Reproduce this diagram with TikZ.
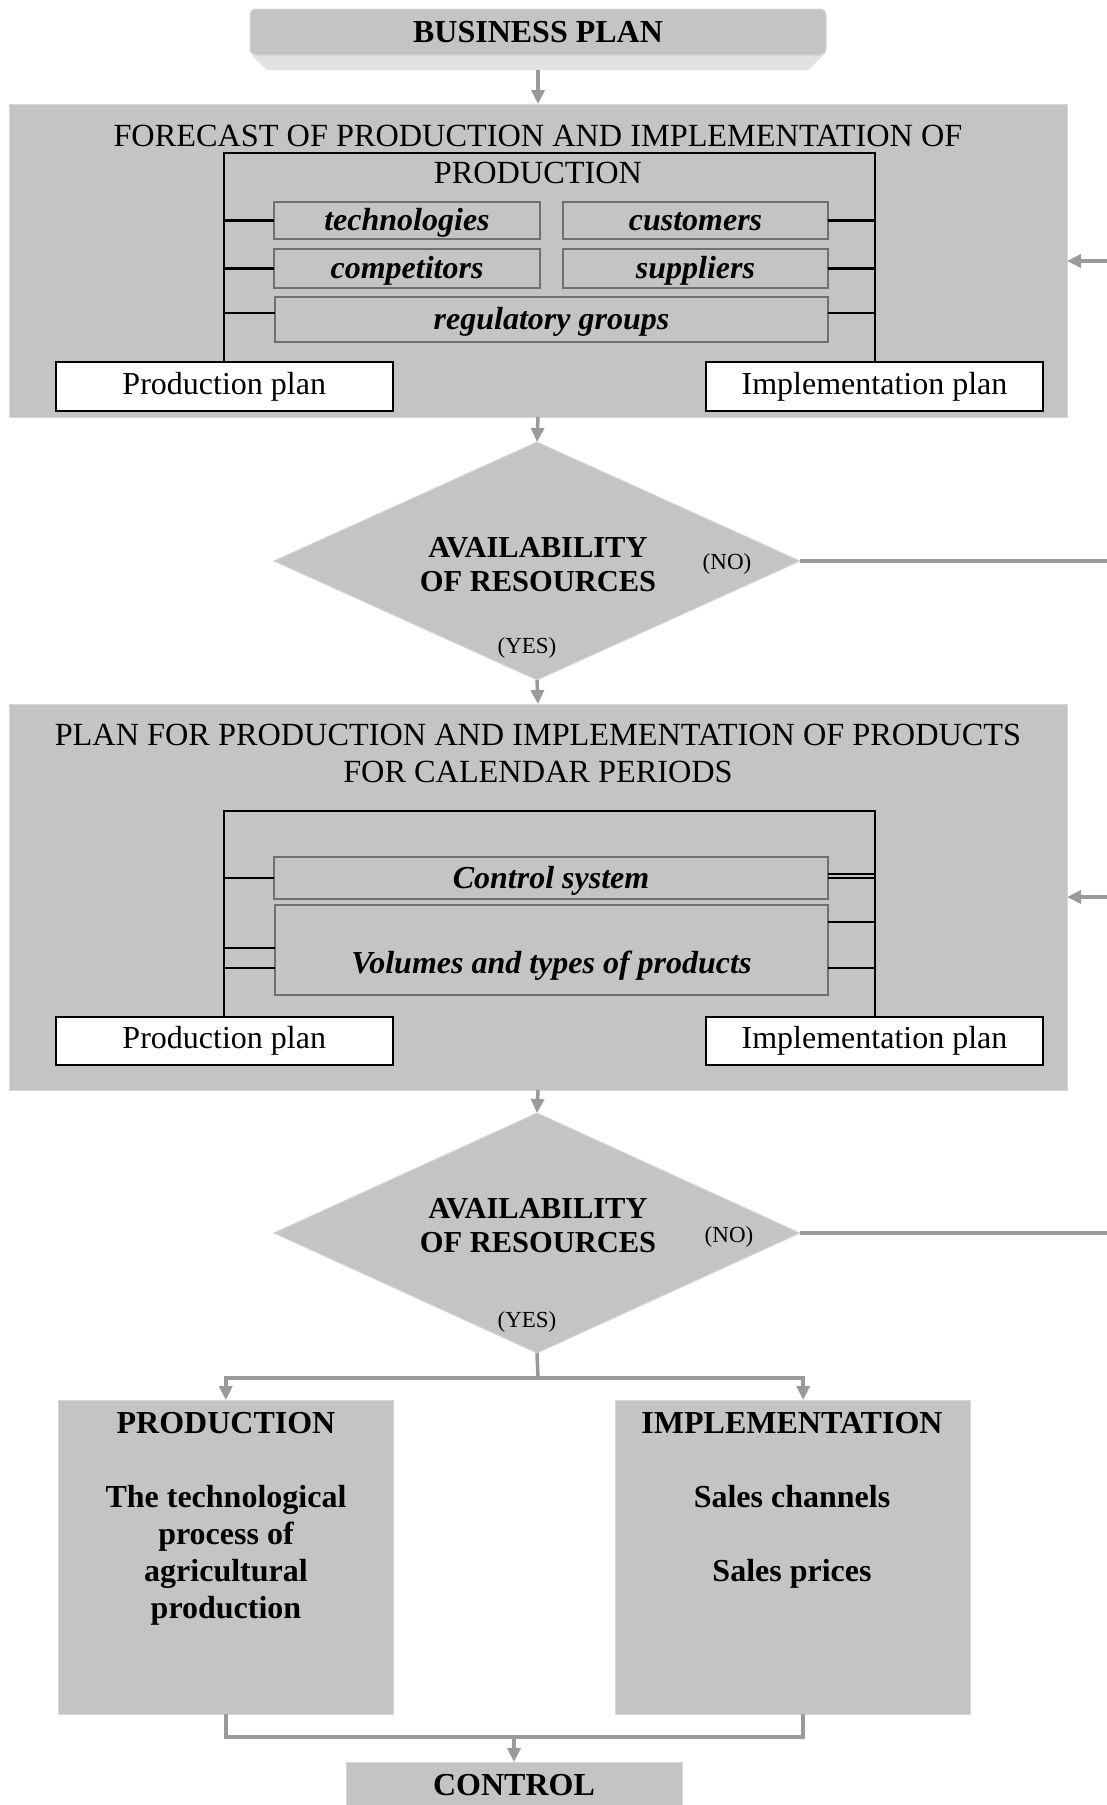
\documentclass[tikz,border=0pt]{standalone}
\usepackage{fontspec}
\setmainfont{Liberation Serif}
\usetikzlibrary{shapes.geometric,arrows.meta}
\definecolor{boxgray}{HTML}{C4C4C4}
\definecolor{edgegray}{HTML}{D6D6D6}
\definecolor{linegray}{HTML}{9A9A9A}
\definecolor{bevelgray}{HTML}{E2E2E2}
\definecolor{smalledge}{HTML}{707070}
\tikzset{
  every node/.style={inner sep=0pt, outer sep=0pt},
  big/.style={font=\fontsize{32.3}{37}\selectfont},
  panel/.style={fill=boxgray, draw=edgegray, line width=1pt},
  whitebox/.style={fill=white, draw=black, line width=2pt, font=\fontsize{32}{37}\selectfont},
  smallbox/.style={fill=boxgray, draw=smalledge, line width=2.2pt, text height=27pt, text depth=7pt,
                   font=\fontsize{32}{37}\selectfont\bfseries\itshape},
  frame/.style={draw=black, line width=2pt},
  tick/.style={draw=black, line width=2.6pt},
  gline/.style={draw=linegray, line width=3.5pt},
  garrow/.style={draw=linegray, line width=3.5pt, -{Triangle[width=13pt,length=14pt]}},
  decision/.style={shape=diamond, fill=boxgray, draw=edgegray, line width=1pt},
  dtext/.style={font=\fontsize{30.5}{34}\selectfont\bfseries, align=center},
  stext/.style={font=\fontsize{23}{27}\selectfont},
}
\begin{document}
\begin{tikzpicture}[x=1pt,y=-1pt]
\useasboundingbox (0,0) rectangle (1107,1805);

% Business plan
\fill[bevelgray] (252,55) -- (824,55) -- (808,70) -- (267,70) -- cycle;
\node[fill=boxgray, draw=edgegray, line width=1pt, rounded corners=6pt,
      minimum width=576pt, minimum height=46pt,
      font=\fontsize{32}{37}\selectfont\bfseries] (bp) at (538,32) {BUSINESS PLAN};

% Forecast panel
\node[panel, minimum width=1058pt, minimum height=313pt] (f1) at (538,260.5) {};
\node[big, align=center] (f1t) at (538,154.5) {FORECAST OF PRODUCTION AND IMPLEMENTATION OF\\PRODUCTION};
\draw[garrow] (bp.south |- 0,70) -- (f1.north);

\node[whitebox, minimum width=336.5pt, minimum height=49pt] (pp1) at (224.25,386.5) {Production plan};
\node[whitebox, minimum width=337pt, minimum height=49pt] (ip1) at (874.5,386.5) {Implementation plan};
\coordinate (ft1) at (538,153);
\draw[frame] (pp1.north) |- (ft1) -| (ip1.north);

\node[smallbox, minimum width=266pt, minimum height=37pt] (tech) at (407,220.5) {technologies};
\node[smallbox, minimum width=265pt, minimum height=37pt] (cust) at (695.5,220.5) {customers};
\node[smallbox, minimum width=266pt, minimum height=39pt] (comp) at (407,268.5) {competitors};
\node[smallbox, minimum width=265pt, minimum height=39pt] (supp) at (695.5,268.5) {suppliers};
\node[smallbox, minimum width=553pt, minimum height=45pt] (reg) at (551.5,319.5) {regulatory groups};

\draw[tick] (tech.west) -- (tech.west -| pp1.north);
\draw[tick] (comp.west) -- (comp.west -| pp1.north);
\draw[tick] ([yshift=6.5pt]reg.west) -- ([yshift=6.5pt]reg.west -| pp1.north);
\draw[tick] (cust.east) -- (cust.east -| ip1.north);
\draw[tick] (supp.east) -- (supp.east -| ip1.north);
\draw[tick] ([yshift=6.5pt]reg.east) -- ([yshift=6.5pt]reg.east -| ip1.north);

\coordinate (r1) at (1107,261);
\draw[garrow] (r1) -- (r1 -| f1.east);

% Decision 1
\node[decision, minimum width=526pt, minimum height=238pt] (d1) at (537,561) {};
\node[dtext] (d1t) at (538,565) {AVAILABILITY\\OF RESOURCES};
\node[stext] (no1) at (727,564) {(NO)};
\node[stext] (yes1) at (527,648) {(YES)};
\draw[garrow] (f1.south) -- (d1.north);
\coordinate (n1) at (1107,561);
\draw[gline] (d1.east) -- (n1);

% Plan panel
\node[panel, minimum width=1058pt, minimum height=386pt] (f2) at (538,897) {};
\node[big, align=center] (f2t) at (538,753.5) {PLAN FOR PRODUCTION AND IMPLEMENTATION OF PRODUCTS\\FOR CALENDAR PERIODS};
\draw[garrow] (d1.south) -- (f2.north);

\node[whitebox, minimum width=336.5pt, minimum height=48pt] (pp2) at (224.25,1041) {Production plan};
\node[whitebox, minimum width=337pt, minimum height=48pt] (ip2) at (874.5,1041) {Implementation plan};
\coordinate (ft2) at (538,811);
\draw[frame] (pp2.north) |- (ft2) -| (ip2.north);

\node[smallbox, minimum width=554pt, minimum height=42pt] (ctrlsys) at (551,878) {Control system};
\node[smallbox, minimum width=553pt, minimum height=90pt, text height=53pt] (vol) at (551.5,950) {Volumes and types of products};

\draw[tick] (ctrlsys.west) -- (ctrlsys.west -| pp2.north);
\draw[tick] ([yshift=2pt]vol.west) -- ([yshift=2pt]vol.west -| pp2.north);
\draw[tick] ([yshift=-18pt]vol.west) -- ([yshift=-18pt]vol.west -| pp2.north);
\draw[frame] ([yshift=4pt]ctrlsys.east) -- ([yshift=4pt]ctrlsys.east -| ip2.north);
\draw[frame] ([yshift=0.5pt]ctrlsys.east) -- ([yshift=0.5pt]ctrlsys.east -| ip2.north);
\draw[tick] ([yshift=28pt]vol.east) -- ([yshift=28pt]vol.east -| ip2.north);
\draw[tick] ([yshift=-18pt]vol.east) -- ([yshift=-18pt]vol.east -| ip2.north);

\coordinate (r2) at (1107,897);
\draw[garrow] (r2) -- (r2 -| f2.east);

% Decision 2
\node[decision, minimum width=526pt, minimum height=240pt] (d2) at (537,1233) {};
\node[dtext] (d2t) at (538,1225.5) {AVAILABILITY\\OF RESOURCES};
\node[stext] (no2) at (729,1237) {(NO)};
\node[stext] (yes2) at (527,1322) {(YES)};
\draw[garrow] (f2.south) -- (d2.north);
\coordinate (n2) at (1107,1233);
\draw[gline] (d2.east) -- (n2);

% Bottom boxes
\node[panel, minimum width=334.5pt, minimum height=314pt] (prod) at (225.8,1557) {};
\node[panel, minimum width=355pt, minimum height=314pt] (impl) at (793.2,1557) {};
\node[font=\fontsize{32}{37}\selectfont\bfseries, align=center, anchor=north] (prodt) at (226,1412)
  {PRODUCTION\\[37pt]The technological\\process of\\agricultural\\production};
\node[font=\fontsize{32}{37}\selectfont\bfseries, align=center, anchor=north] (implt) at (792,1412)
  {IMPLEMENTATION\\[37pt]Sales channels\\[37pt]Sales prices};

\coordinate (br) at (538,1378);
\draw[gline] (d2.south) -- (br);
\draw[garrow] (br) -| (prod.north);
\draw[garrow] (br) -| ([xshift=10pt]impl.north);

% Control
\node[panel, minimum width=336pt, minimum height=46pt, font=\fontsize{32}{37}\selectfont\bfseries] (ctrl) at (514,1785) {CONTROL};
\coordinate (mrg) at (514,1737);
\draw[gline] (prod.south) |- (mrg) -| ([xshift=10pt]impl.south);
\draw[garrow] (mrg) -- (ctrl.north);
\end{tikzpicture}
\end{document}
